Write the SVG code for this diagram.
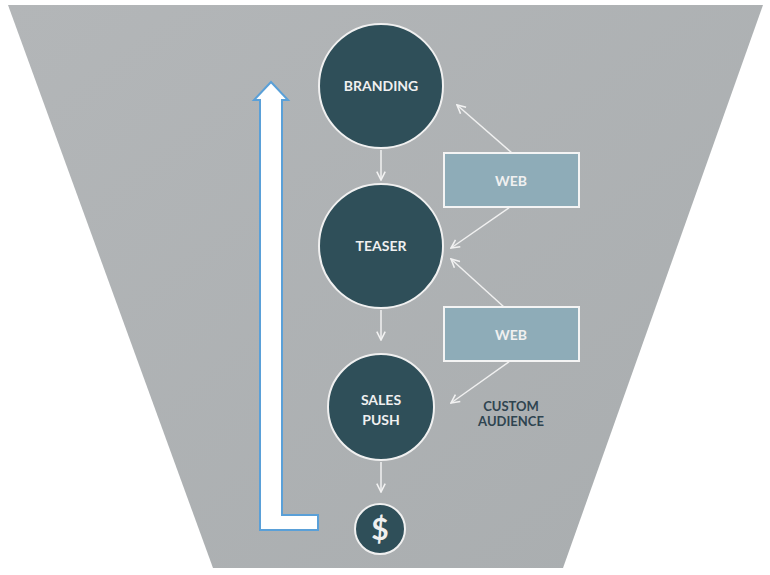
<svg xmlns="http://www.w3.org/2000/svg" width="770" height="575" viewBox="0 0 770 575">
<defs>
<linearGradient id="bg" x1="0" y1="0" x2="1" y2="1"><stop offset="0" stop-color="#b3b6b8"/><stop offset="1" stop-color="#a9adaf"/></linearGradient>
<marker id="ah" viewBox="0 0 10 10" refX="9" refY="5" markerWidth="7" markerHeight="7" orient="auto-start-reverse"><path d="M1,1 L9,5 L1,9" fill="none" stroke="#f2f2f2" stroke-width="1.5"/></marker>
<style>
.c{fill:#2f4f59;stroke:#f0f0f0;stroke-width:2}
.w{fill:#8eacb8;stroke:#f4f4f4;stroke-width:2}
.t{font-family:"Lato","Liberation Sans",sans-serif;font-weight:bold;fill:#f0f0f0;text-anchor:middle;font-size:14px}
.l{stroke:#f0f0f0;stroke-width:1.5;fill:none;marker-end:url(#ah)}
</style>
</defs>
<rect width="770" height="575" fill="#fff"/>
<polygon points="8,5 763,5 563,568 213,568" fill="url(#bg)"/>
<path d="M260,530 L260,100 L254,100 L271,82 L288,100 L282,100 L282,515 L318,515 L318,530 Z" fill="#fff" stroke="#5aa0d8" stroke-width="2"/>
<g id="connectors">
<line class="l" x1="381" y1="150" x2="381" y2="180"/>
<line class="l" x1="381" y1="310" x2="381" y2="340"/>
<line class="l" x1="381" y1="462" x2="381" y2="492"/>
<line class="l" x1="512" y1="153" x2="457" y2="105"/>
<line class="l" x1="510" y1="207" x2="451" y2="248"/>
<line class="l" x1="504" y1="307" x2="451" y2="259"/>
<line class="l" x1="510" y1="361" x2="451" y2="403"/>
</g>
<g id="branding"><circle class="c" cx="381" cy="86" r="62"/><text class="t" x="381" y="91">BRANDING</text></g>
<g id="teaser"><circle class="c" cx="381" cy="246" r="62"/><text class="t" x="381" y="251">TEASER</text></g>
<g id="sales"><circle class="c" cx="381" cy="407" r="53"/><text class="t" x="381" y="405">SALES</text><text class="t" x="381" y="425">PUSH</text></g>
<g id="dollar"><circle class="c" cx="380" cy="529" r="25"/><text class="t" x="380" y="540" style="font-size:30px">$</text></g>
<g id="web1"><rect class="w" x="444" y="153" width="135" height="54"/><text class="t" x="511" y="186">WEB</text></g>
<g id="web2"><rect class="w" x="444" y="307" width="135" height="54"/><text class="t" x="511" y="340">WEB</text></g>
<g id="custom"><text class="t" x="511" y="411" style="fill:#2f4450;font-size:13px">CUSTOM</text><text class="t" x="511" y="426" style="fill:#2f4450;font-size:13px">AUDIENCE</text></g>
</svg>
